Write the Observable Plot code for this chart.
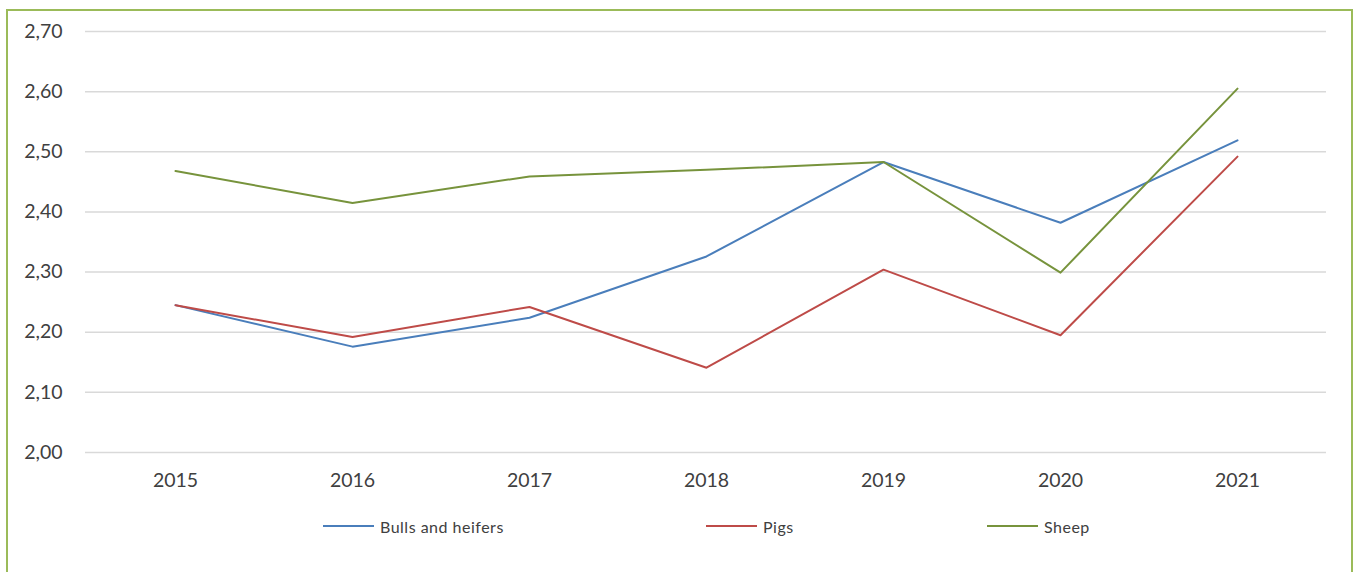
<!DOCTYPE html>
<html>
<head>
<meta charset="utf-8">
<script src="https://cdn.jsdelivr.net/npm/d3@7"></script>
<script src="https://cdn.jsdelivr.net/npm/@observablehq/plot@0.6"></script>
<style>
  html, body { margin: 0; padding: 0; background: #fff; overflow: hidden; }
  #wrap { position: relative; width: 1356px; height: 572px; font-family: Lato, "Open Sans", sans-serif; }
  #border { position: absolute; left: 6px; top: 9px; width: 1347px; height: 620px; border: 2px solid #9bbb59; box-sizing: border-box; }
  #chart { position: absolute; left: 0; top: 0; }
  .leg { position: absolute; top: 516px; height: 20px; display: flex; align-items: center; font-size: 16px; color: #404040; letter-spacing: 0.5px; }
  .leg span.sw { display: inline-block; width: 51px; height: 2px; margin-right: 6px; }
</style>
</head>
<body>
<div id="wrap">
  <div id="border"></div>
  <div id="chart"></div>
  <div id="legend"></div>
</div>
<script>
const years = ["2015", "2016", "2017", "2018", "2019", "2020", "2021"];
const bulls = [2.245, 2.176, 2.224, 2.326, 2.483, 2.382, 2.519];
const pigs  = [2.245, 2.192, 2.242, 2.141, 2.304, 2.195, 2.492];
const sheep = [2.468, 2.415, 2.459, 2.470, 2.483, 2.299, 2.605];
const seriesNames = ["Bulls and heifers", "Pigs", "Sheep"];
const seriesColors = ["#4a7ebb", "#be4b48", "#77933c"];
const yTicks = [2.0, 2.1, 2.2, 2.3, 2.4, 2.5, 2.6, 2.7];

const seriesValues = [bulls, pigs, sheep];
const rows = [];
seriesNames.forEach((name, i) => {
  years.forEach((yr, j) => rows.push({series: name, year: yr, value: seriesValues[i][j]}));
});

const fmt = d => d.toFixed(2).replace(".", ",");

const plot = Plot.plot({
  width: 1356,
  height: 490,
  marginLeft: 85,
  marginRight: 30,
  marginTop: 31,
  marginBottom: 38,
  style: { fontFamily: "Lato, 'Open Sans', sans-serif", fontSize: "19.5px", color: "#404040", background: "transparent" },
  x: { type: "point", domain: years, padding: 0.5, label: null },
  y: { domain: [2.0, 2.7], label: null },
  color: { domain: seriesNames, range: seriesColors },
  marks: [
    Plot.gridY(yTicks, { stroke: "#d9d9d9", strokeOpacity: 1, strokeWidth: 1.5 }),
    Plot.axisY(yTicks, { tickSize: 0, tickPadding: 23, tickFormat: fmt, fontSize: 19.5, fill: "#404040" }),
    Plot.axisX(years, { tickSize: 0, tickPadding: 21, fontSize: 19.5, fill: "#404040" }),
    Plot.line(rows, { x: "year", y: "value", z: "series", stroke: "series", strokeWidth: 2, curve: "linear" })
  ]
});
document.getElementById("chart").appendChild(plot);

const legendX = [323, 706, 987];
const legend = document.getElementById("legend");
seriesNames.forEach((name, i) => {
  const d = document.createElement("div");
  d.className = "leg";
  d.style.left = legendX[i] + "px";
  d.innerHTML = `<span class="sw" style="background:${seriesColors[i]}"></span><span>${name}</span>`;
  legend.appendChild(d);
});
</script>
</body>
</html>
